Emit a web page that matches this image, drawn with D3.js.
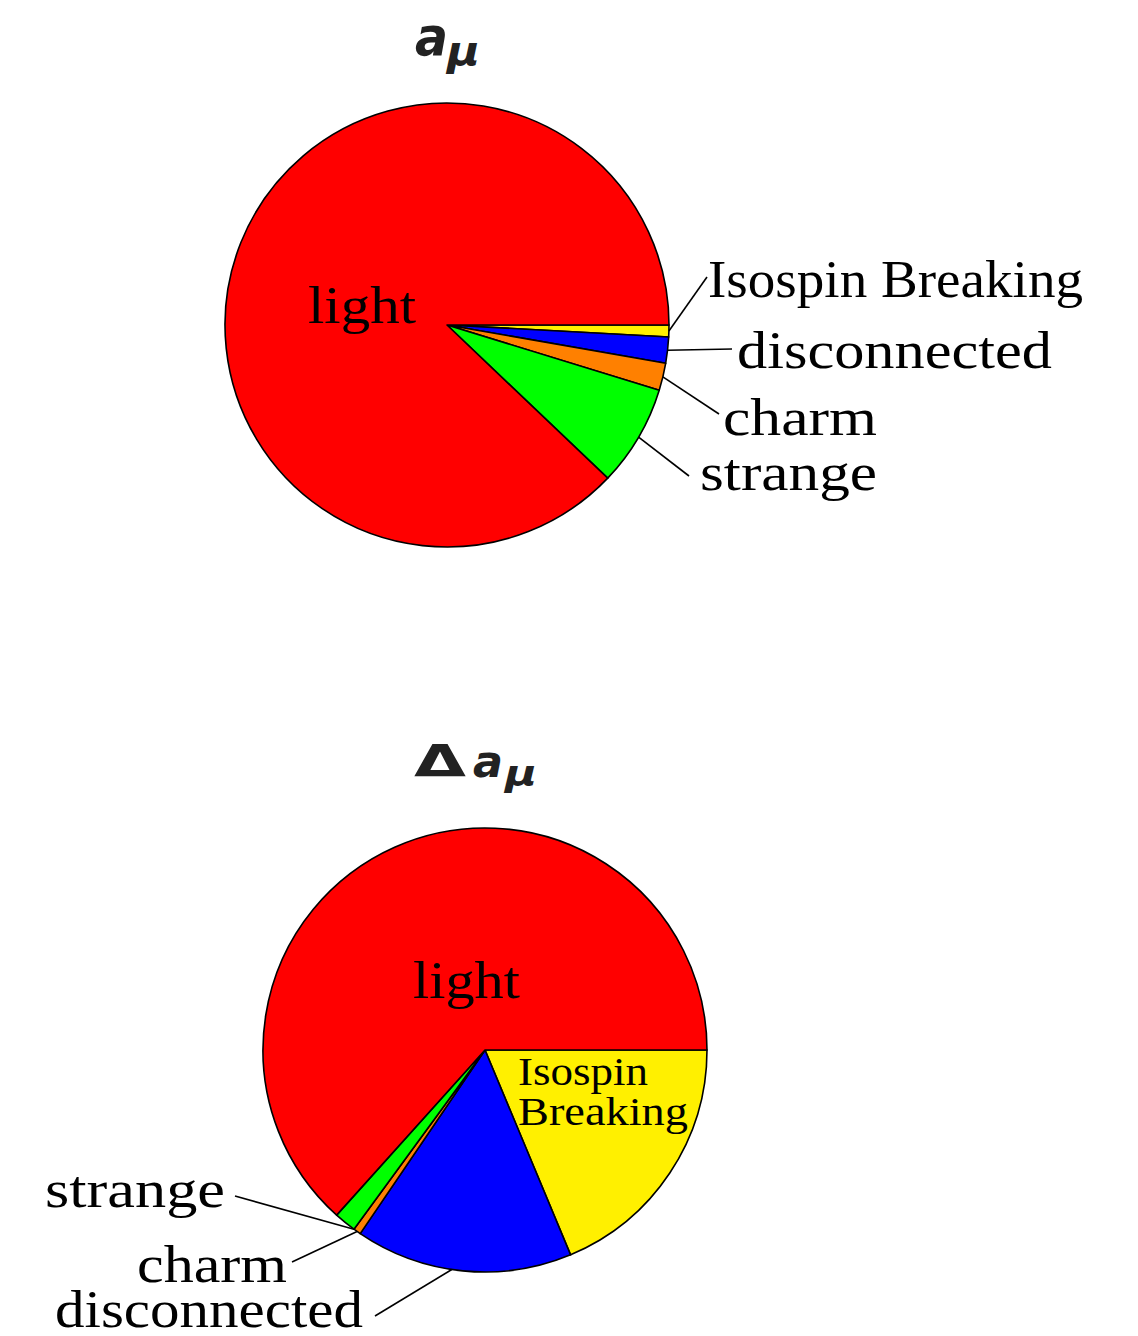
<!DOCTYPE html>
<html>
<head>
<meta charset="utf-8">
<script src="https://cdn.jsdelivr.net/npm/d3@7"></script>
<style>
  html, body { margin: 0; padding: 0; background: #fff; }
  svg { display: block; }
</style>
</head>
<body>
<script>
// Slice categories, in clockwise order starting at 3 o'clock
const categories = ["Isospin Breaking", "disconnected", "charm", "strange", "light"];
const sliceColors = ["#fff000", "#0000ff", "#ff8000", "#00ff00", "#ff0000"];

// Contributions to a_mu (absolute size of each piece, 10^-10)
const amuValues = [6.2, 13.7, 14.3, 53.2, 634.0];
// Contributions to the uncertainty Delta a_mu (percent of total)
const deltaValues = [18.7, 15.8, 0.55, 1.6, 63.35];

const W = 1138, H = 1336, R = 222;
const serif = "'Liberation Serif', 'DejaVu Serif', serif";
const sans = "'DejaVu Sans', sans-serif";

const svg = d3.select("body").append("svg")
  .attr("width", W).attr("height", H);

const pie = d3.pie().sort(null)
  .startAngle(Math.PI / 2)
  .endAngle(Math.PI / 2 + 2 * Math.PI);
const arc = d3.arc().innerRadius(0).outerRadius(R);

// point on the rim at a d3 angle (0 = 12 o'clock, clockwise)
const rim = a => [R * Math.sin(a), -R * Math.cos(a)];

function label(g, t, x, y, size, len, anchor) {
  g.append("text")
    .attr("x", x).attr("y", y)
    .attr("font-family", serif)
    .attr("font-size", size)
    .attr("text-anchor", anchor || "start")
    .attr("textLength", len)
    .attr("lengthAdjust", "spacingAndGlyphs")
    .attr("fill", "#000")
    .text(t);
}

function drawPie(cx, cy, values, labels) {
  const g = svg.append("g").attr("transform", `translate(${cx},${cy})`);
  const arcs = pie(values);
  g.selectAll("path.slice").data(arcs).join("path")
    .attr("class", "slice")
    .attr("d", arc)
    .attr("fill", (d, i) => sliceColors[i])
    .attr("stroke", "#000")
    .attr("stroke-width", 1.6)
    .attr("stroke-linejoin", "round");

  labels.forEach(l => {
    const d = arcs[categories.indexOf(l.cat)];
    if (l.leader) {
      const a = d.startAngle + l.leader.t * (d.endAngle - d.startAngle);
      const p = rim(a);
      g.append("line")
        .attr("x1", p[0]).attr("y1", p[1])
        .attr("x2", l.leader.x - cx).attr("y2", l.leader.y - cy)
        .attr("stroke", "#000").attr("stroke-width", 1.6);
    }
    l.lines.forEach(ln => label(g, ln.text, ln.x - cx, ln.y - cy, l.size, ln.len, l.anchor));
  });
  return g;
}

// upper pie: a_mu
drawPie(447, 325, amuValues, [
  { cat: "Isospin Breaking", size: 52, leader: { t: 0.5, x: 707, y: 277 },
    lines: [{ text: "Isospin Breaking", x: 708, y: 297, len: 375 }] },
  { cat: "disconnected", size: 52, leader: { t: 0.5, x: 732, y: 349 },
    lines: [{ text: "disconnected", x: 737, y: 368, len: 315 }] },
  { cat: "charm", size: 52, leader: { t: 0.5, x: 719, y: 414 },
    lines: [{ text: "charm", x: 723, y: 435, len: 154 }] },
  { cat: "strange", size: 52, leader: { t: 0.5, x: 689, y: 476 },
    lines: [{ text: "strange", x: 700, y: 490, len: 177 }] },
  { cat: "light", size: 52,
    lines: [{ text: "light", x: 308, y: 323, len: 108 }] }
]);

// lower pie: Delta a_mu
drawPie(485, 1050, deltaValues, [
  { cat: "Isospin Breaking", size: 39,
    lines: [{ text: "Isospin", x: 518, y: 1085, len: 130 },
            { text: "Breaking", x: 518, y: 1125, len: 170 }] },
  { cat: "light", size: 52,
    lines: [{ text: "light", x: 413, y: 998, len: 107 }] },
  { cat: "strange", size: 52, anchor: "end", leader: { t: 0.0, x: 235, y: 1196 },
    lines: [{ text: "strange", x: 225, y: 1207, len: 180 }] },
  { cat: "charm", size: 52, anchor: "end", leader: { t: 0.5, x: 292, y: 1262 },
    lines: [{ text: "charm", x: 287, y: 1282, len: 150 }] },
  { cat: "disconnected", size: 52, anchor: "end", leader: { t: 0.55, x: 375, y: 1316 },
    lines: [{ text: "disconnected", x: 363, y: 1327, len: 308 }] }
]);

// titles
function glyph(t, x, y, size, len, style, weight) {
  svg.append("text")
    .attr("x", x).attr("y", y)
    .attr("font-family", sans)
    .attr("font-size", size)
    .attr("font-style", style)
    .attr("font-weight", weight)
    .attr("textLength", len)
    .attr("lengthAdjust", "spacingAndGlyphs")
    .attr("fill", "#222")
    .text(t);
}
glyph("a", 415, 55, 53, 33, "oblique", "bold");
glyph("μ", 447, 65, 40, 33, "oblique", "bold");

glyph("Δ", 414, 777, 44, 52, "normal", "bold");
glyph("a", 473, 777, 45, 30, "oblique", "bold");
glyph("μ", 505, 786, 36, 32, "oblique", "bold");
</script>
</body>
</html>
